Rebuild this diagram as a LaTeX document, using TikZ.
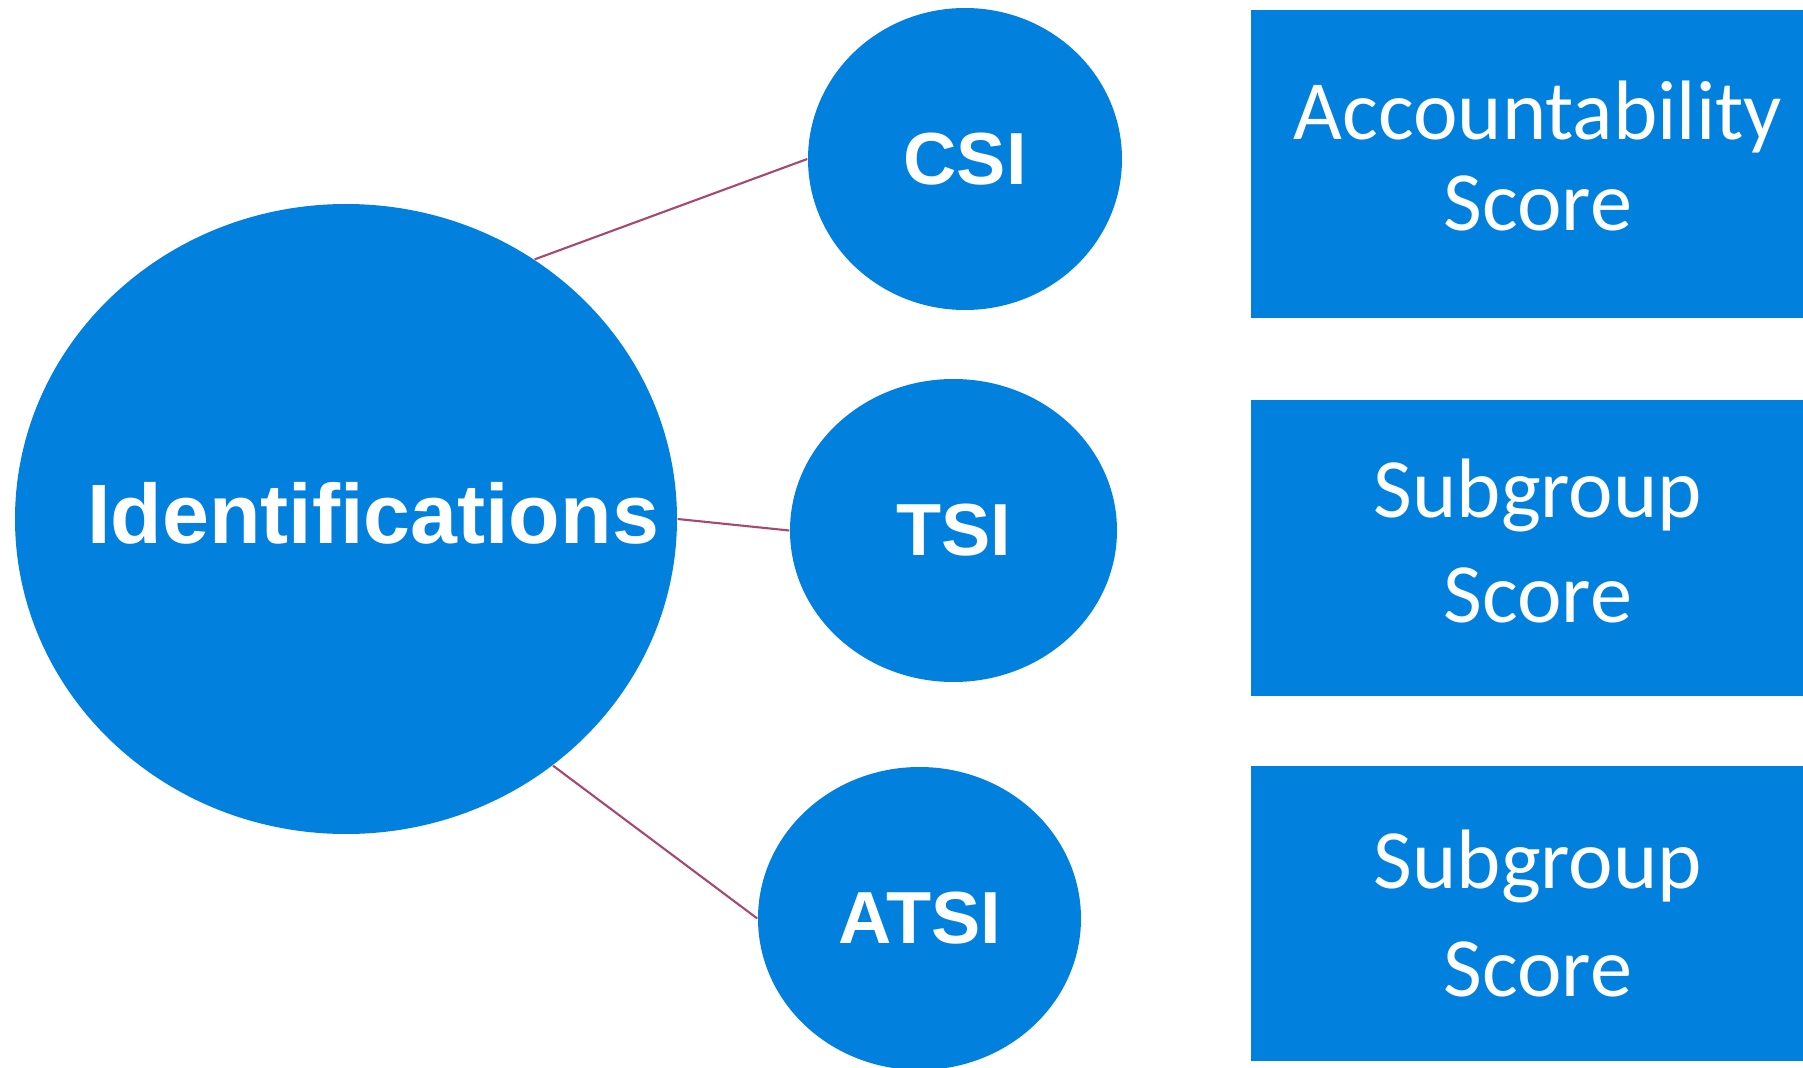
\documentclass[tikz,border=0pt]{standalone}
\usepackage{fontspec}
\setmainfont{Carlito}
\newfontfamily\headfont{Liberation Sans}
\usetikzlibrary{shapes.geometric}
\definecolor{tileblue}{RGB}{2,128,222}
\definecolor{linkred}{RGB}{166,72,112}
\tikzset{
  blob/.style={ellipse, fill=tileblue, inner sep=0pt, text=white,
    font=\headfont\bfseries\fontsize{21}{25}\selectfont},
  scorebox/.style={rectangle, fill=tileblue, inner sep=0pt, text=white,
    align=center, minimum width=5.74cm},
  link/.style={draw=linkred, line width=0.6pt}
}

\begin{document}
\begin{tikzpicture}
			%%%%% START %%%%%
			\useasboundingbox (0, 0) rectangle (18.03, 10.67);
			
			\node[blob, minimum width=6.62cm, minimum height=6.30cm,
			  label={[text=white, font=\headfont\bfseries\fontsize{24}{28}\selectfont,
			  xshift=2.7mm, yshift=0.6mm]center:Identifications}] (idn) at (3.46, 5.48) {};
			
			\node[blob, minimum width=3.14cm, minimum height=3.02cm] (csi) at (9.65, 9.08) {CSI};
			\node[blob, minimum width=3.27cm, minimum height=3.03cm] (tsi) at (9.535, 5.365) {TSI};
			\node[blob, minimum width=3.23cm, minimum height=3.03cm] (atsi) at (9.195, 1.485) {ATSI};
			
			\draw[link] (idn.54) -- (csi.west);
			\draw[link] (idn.east) -- (tsi.west);
			\draw[link] (idn.-50) -- (atsi.west);
			
			\node[scorebox, minimum height=3.085cm, text depth=1.6mm, font=\fontsize{24}{26}\selectfont]
			  (acc) at (15.38, 9.03) {Accountability\\Score};
			\node[scorebox, minimum height=2.96cm, text depth=1.5mm, font=\fontsize{24}{30}\selectfont]
			  (sub1) at (15.38, 5.19) {Subgroup\\Score};
			\node[scorebox, minimum height=2.95cm, font=\fontsize{24}{30.5}\selectfont]
			  (sub2) at (15.38, 1.535) {Subgroup\\Score};
			
			%%%%% END %%%%%
\end{tikzpicture}
\end{document}
